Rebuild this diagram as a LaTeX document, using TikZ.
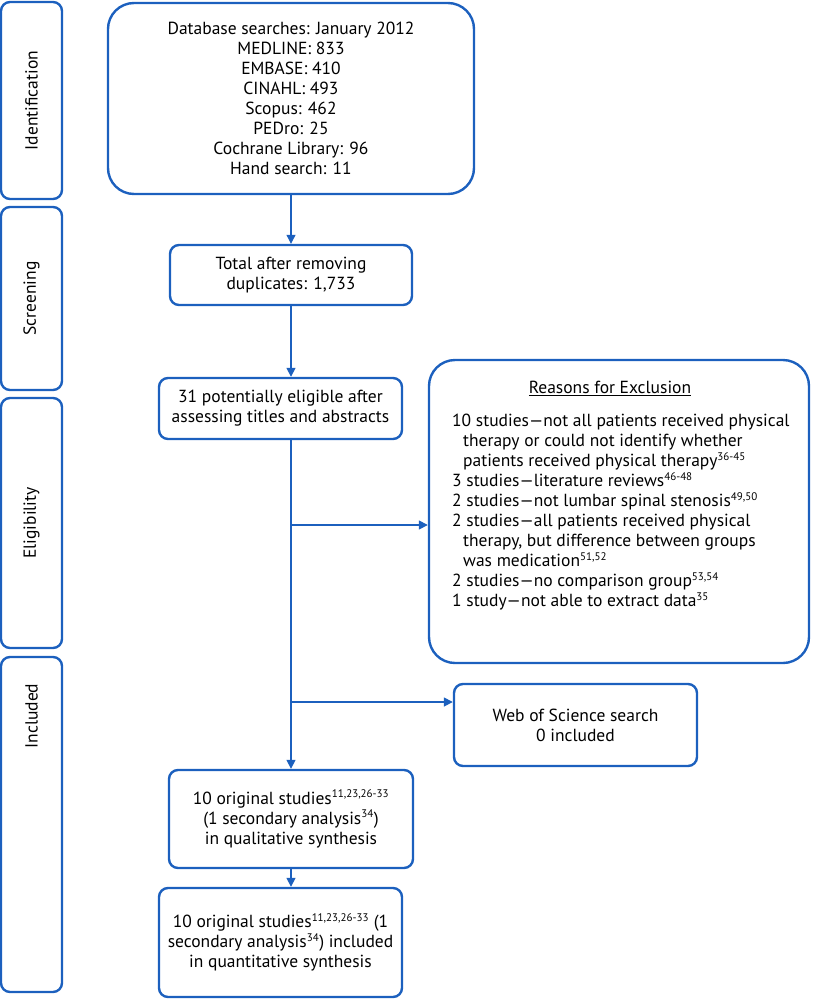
\documentclass[tikz,border=0pt]{standalone}
\usepackage{fontspec}
\setmainfont{PT Sans}
\usetikzlibrary{arrows.meta}
\definecolor{prismablue}{RGB}{28,96,190}
\newcommand{\supref}[1]{\textsuperscript{\fontsize{11}{11}\selectfont #1}}

\begin{document}
\begin{tikzpicture}[x=1pt, y=-1pt, font=\fontsize{17.5}{20}\selectfont]
    \tikzset{
      stage/.style={draw=prismablue, line width=2.4pt, rounded corners=9pt, rotate=90, minimum height=61pt, inner sep=0pt},
      flowbox/.style={draw=prismablue, line width=2.4pt, rounded corners=9pt, align=center, inner sep=0pt},
      bigbox/.style={flowbox, rounded corners=26pt},
      arr/.style={draw=prismablue, line width=1.6pt, -{Triangle[length=9pt,width=9pt]}}
    }
    \useasboundingbox (0,0) rectangle (812,999);

    \node[stage, minimum width=197pt] (ident) at (31.5,100.5) {Identification};
    \node[stage, minimum width=183pt] (screen) at (31.5,298.5) {Screening};
    \node[stage, minimum width=250pt] (eligst) at (31.5,523) {Eligibility};
    \node[stage, minimum width=335pt] (inclst) at (31.5,824.5) {};
    \node[rotate=90] (incllbl) at (31.5,716) {Included};

    \node[bigbox, minimum width=366pt, minimum height=191pt] (db) at (291,98.5)
      {Database searches: January 2012\\MEDLINE: 833\\EMBASE: 410\\CINAHL: 493\\Scopus: 462\\PEDro: 25\\Cochrane Library: 96\\Hand search: 11};
    \node[flowbox, minimum width=242pt, minimum height=60pt] (total) at (291,275)
      {Total after removing\\duplicates: 1,733};
    \node[flowbox, minimum width=243pt, minimum height=61pt] (elig) at (280.5,408.5)
      {31 potentially eligible after\\assessing titles and abstracts};
    \node[bigbox, minimum width=380pt, minimum height=303pt] (excl) at (619,511.5) {};
    \node (exclhead) at (610,388) {\underline{Reasons for Exclusion}};
    \node[anchor=west, align=left, inner sep=0pt] (excllist) at (452,512.5)
      {10 studies---not all patients received physical\\
       \hspace*{11pt}therapy or could not identify whether\\
       \hspace*{11pt}patients received physical therapy\supref{36-45}\\
       3 studies---literature reviews\supref{46-48}\\
       2 studies---not lumbar spinal stenosis\supref{49,50}\\
       2 studies---all patients received physical\\
       \hspace*{11pt}therapy, but difference between groups\\
       \hspace*{11pt}was medication\supref{51,52}\\
       2 studies---no comparison group\supref{53,54}\\
       1 study---not able to extract data\supref{35}};
    \node[flowbox, minimum width=243pt, minimum height=82pt] (wos) at (575.5,725)
      {Web of Science search\\0 included};
    \node[flowbox, minimum width=244pt, minimum height=98pt] (incl1) at (291,819)
      {10 original studies\supref{11,23,26-33}\\(1 secondary analysis\supref{34})\\in qualitative synthesis};
    \node[flowbox, minimum width=243pt, minimum height=109pt] (incl2) at (280.5,942.5)
      {10 original studies\supref{11,23,26-33} (1\\secondary analysis\supref{34}) included\\in quantitative synthesis};

    \coordinate (split1) at (291,525);
    \coordinate (split2) at (291,702);

    \draw[arr, line width=1.1pt] (db) -- (total);
    \draw[arr] (total.south) -- (total.south |- elig.north);
    \draw[arr] (incl1.north |- elig.south) -- (incl1.north);
    \draw[arr] (split1) -- (split1 -| excl.west);
    \draw[arr] (split2) -- (split2 -| wos.west);
    \draw[arr] (incl1.south) -- (incl1.south |- incl2.north);
\end{tikzpicture}
\end{document}
